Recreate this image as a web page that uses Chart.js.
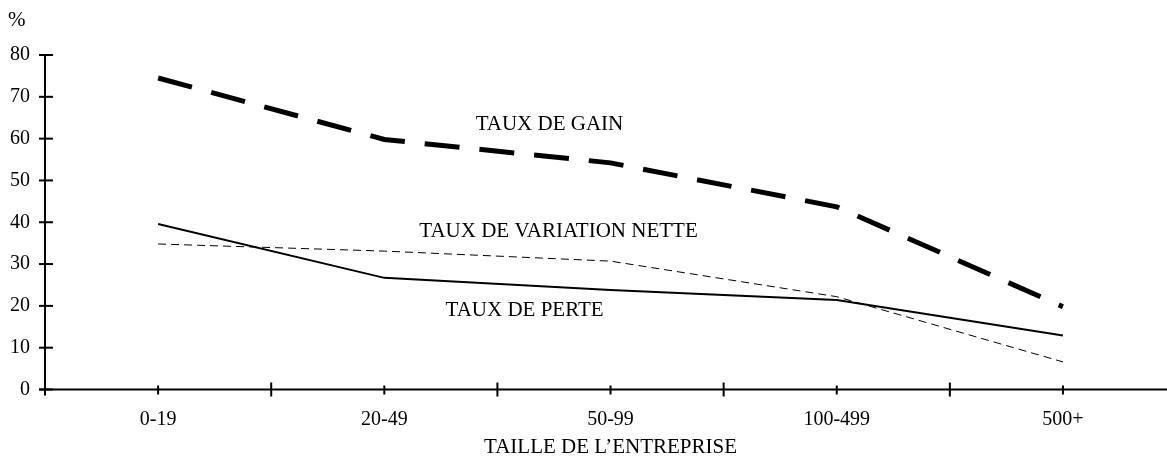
<!DOCTYPE html>
<html>
<head>
<meta charset="utf-8">
<script src="https://cdn.jsdelivr.net/npm/chart.js@4/dist/chart.umd.min.js"></script>
<style>
  html, body { margin: 0; padding: 0; background: #fff; }
  canvas { display: block; }
</style>
</head>
<body>
<canvas id="chart" width="1167" height="457"></canvas>
<script>
// values
const categories = ['0-19', '20-49', '50-99', '100-499', '500+'];
const tauxGain = [74.5, 59.8, 54.2, 43.7, 19.8];
const tauxVariation = [34.8, 33.1, 30.7, 22.2, 6.6];
const tauxPerte = [39.6, 26.7, 23.8, 21.4, 12.9];
const yTicks = [0, 10, 20, 30, 40, 50, 60, 70, 80];

const FONT = '"Liberation Serif", "Times New Roman", serif';

const toPoints = arr => arr.map((v, i) => ({x: i, y: v}));

// axes, tick marks, series labels and the axis title
const decor = {
  id: 'decor',
  afterDatasetsDraw(chart) {
    const ctx = chart.ctx;
    const xs = chart.scales.x, ys = chart.scales.y;
    const left = xs.getPixelForValue(-0.5);
    const y0 = ys.getPixelForValue(0);
    const yTop = ys.getPixelForValue(80);
    ctx.save();
    ctx.strokeStyle = '#000';
    ctx.lineWidth = 2;
    // y axis
    ctx.beginPath();
    ctx.moveTo(left, yTop);
    ctx.lineTo(left, y0 + 6);
    ctx.stroke();
    // x axis
    ctx.beginPath();
    ctx.moveTo(left - 6, y0);
    ctx.lineTo(chart.width, y0);
    ctx.stroke();
    // y ticks
    yTicks.forEach(t => {
      const py = ys.getPixelForValue(t);
      ctx.beginPath();
      ctx.moveTo(left - 6, py);
      ctx.lineTo(left + 8, py);
      ctx.stroke();
    });
    // x ticks: short at categories, tall at boundaries
    categories.forEach((c, i) => {
      const px = xs.getPixelForValue(i);
      ctx.beginPath();
      ctx.moveTo(px, y0 - 4);
      ctx.lineTo(px, y0 + 5);
      ctx.stroke();
      if (i < categories.length - 1) {
        const bx = xs.getPixelForValue(i + 0.5);
        ctx.beginPath();
        ctx.moveTo(bx, y0 - 7);
        ctx.lineTo(bx, y0 + 7);
        ctx.stroke();
      }
    });
    // texts
    ctx.fillStyle = '#000';
    ctx.textAlign = 'center';
    ctx.textBaseline = 'middle';
    ctx.font = '21px ' + FONT;
    ctx.fillText('TAUX DE GAIN', xs.getPixelForValue(1.73), ys.getPixelForValue(63.5));
    ctx.fillText('TAUX DE VARIATION NETTE', xs.getPixelForValue(1.77), ys.getPixelForValue(37.9));
    ctx.fillText('TAUX DE PERTE', xs.getPixelForValue(1.62), ys.getPixelForValue(19.0));
    ctx.fillText('TAILLE DE L\u2019ENTREPRISE', xs.getPixelForValue(2), 447);
    ctx.textAlign = 'left';
    ctx.fillText('%', 8, 20);
    ctx.restore();
  }
};

new Chart(document.getElementById('chart'), {
  type: 'line',
  data: {
    datasets: [
      {
        label: 'TAUX DE GAIN',
        data: toPoints(tauxGain),
        borderColor: '#000',
        borderWidth: 5,
        borderDash: [35, 20],
        pointRadius: 0,
        tension: 0
      },
      {
        label: 'TAUX DE VARIATION NETTE',
        data: toPoints(tauxVariation),
        borderColor: '#000',
        borderWidth: 1,
        borderDash: [8, 5],
        pointRadius: 0,
        tension: 0
      },
      {
        label: 'TAUX DE PERTE',
        data: toPoints(tauxPerte),
        borderColor: '#000',
        borderWidth: 2,
        pointRadius: 0,
        tension: 0
      }
    ]
  },
  options: {
    responsive: false,
    animation: false,
    layout: {padding: {top: 55, right: 0, bottom: 0, left: 0}},
    plugins: {legend: {display: false}, tooltip: {enabled: false}},
    scales: {
      x: {
        type: 'linear',
        min: -0.5,
        max: 4.46,
        afterBuildTicks: s => { s.ticks = categories.map((c, i) => ({value: i})); },
        afterFit: s => { s.height = 67.5; },
        grid: {display: false, drawTicks: false},
        border: {display: false},
        ticks: {
          callback: v => categories[v],
          color: '#000',
          padding: 18,
          maxRotation: 0,
          font: {family: FONT, size: 20}
        }
      },
      y: {
        min: 0,
        max: 80,
        afterBuildTicks: s => { s.ticks = yTicks.map(v => ({value: v})); },
        afterFit: s => { s.width = 45; },
        grid: {display: false, drawTicks: false},
        border: {display: false},
        ticks: {
          color: '#000',
          padding: 15,
          font: {family: FONT, size: 20}
        }
      }
    }
  },
  plugins: [decor]
});
</script>
</body>
</html>
